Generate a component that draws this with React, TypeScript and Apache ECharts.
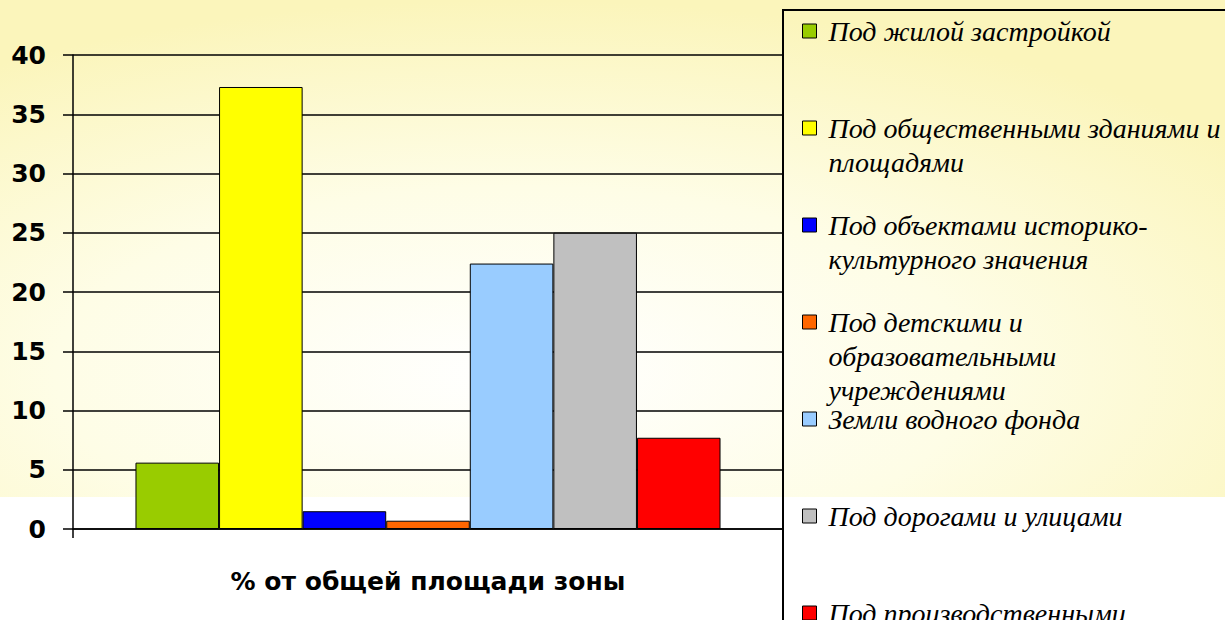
import React, { useEffect, useRef } from "react";
import * as echarts from "echarts";

const categories = ["% от общей площади зоны"];
const seriesNames = [
  "Под жилой застройкой",
  "Под общественными зданиями и\nплощадями",
  "Под объектами историко-\nкультурного значения",
  "Под детскими и\nобразовательными\nучреждениями",
  "Земли водного фонда",
  "Под дорогами и улицами",
  "Под производственными",
];
const seriesValues = [5.6, 37.3, 1.5, 0.7, 22.4, 25.0, 7.7];
const seriesColors = ["#99CC00", "#FFFF00", "#0000FF", "#FF6600", "#99CCFF", "#C0C0C0", "#FF0000"];
const yTicks = { min: 0, max: 40, interval: 5 };

const W = 1225;
const H = 620;
const LEGEND_CENTERS = [31, 128, 225, 322, 419, 516, 613];
const LH = 34;

export default function App() {
  const ref = useRef<HTMLDivElement>(null);
  useEffect(() => {
    document.body.style.margin = "0";
    const chart = echarts.init(ref.current!, null, { renderer: "svg" });
    const legends = seriesNames.map((name, i) => {
      const n = name.split("\n").length;
      const top = LEGEND_CENTERS[i] - ((2 * n - 1) * LH) / 2;
      return {
        show: true,
        data: [name],
        left: 802,
        top,
        orient: "vertical",
        padding: 0,
        itemWidth: 14,
        itemHeight: 14,
        icon: "rect",
        selectedMode: false,
        formatter: (nm: string) =>
          "\n".repeat(n - 1) + nm.split("\n").map((l) => " " + l).join("\n"),
        itemStyle: { borderColor: "#000", borderWidth: 1 },
        textStyle: {
          fontFamily: "Liberation Serif",
          fontStyle: "italic",
          fontSize: 28,
          lineHeight: LH,
          color: "#000",
        },
      };
    });
    chart.setOption({
      animation: false,
      backgroundColor: "#ffffff",
      graphic: [
        {
          type: "rect",
          z: -10,
          silent: true,
          shape: { x: 0, y: 0, width: W, height: 497 },
          style: {
            fill: {
              type: "radial",
              x: 0.42,
              y: 0.75,
              r: 0.75,
              colorStops: [
                { offset: 0, color: "#ffffff" },
                { offset: 0.5, color: "#fefde6" },
                { offset: 1, color: "#fbf5bb" },
              ],
            },
          },
        },
        {
          type: "rect",
          z: 5,
          silent: true,
          shape: { x: 783, y: 10, width: 600, height: 800 },
          style: { fill: "none", stroke: "#000", lineWidth: 2 },
        },
      ],
      legend: legends,
      grid: { left: 73, right: W - 783, top: 55, bottom: H - 529, containLabel: false },
      xAxis: {
        type: "category",
        data: categories,
        axisLine: { show: true, lineStyle: { color: "#000", width: 1.5 } },
        axisTick: { show: true, length: 9, lineStyle: { color: "#000", width: 1.5 } },
        axisLabel: {
          margin: 40,
          fontFamily: "DejaVu Sans",
          fontWeight: "bold",
          fontSize: 25,
          color: "#000",
        },
      },
      yAxis: {
        type: "value",
        min: yTicks.min,
        max: yTicks.max,
        interval: yTicks.interval,
        axisLine: { show: true, lineStyle: { color: "#000", width: 1.5 } },
        axisTick: { show: true, length: 10, lineStyle: { color: "#000", width: 1.5 } },
        splitLine: { show: true, lineStyle: { color: "#000", width: 1.5 } },
        axisLabel: {
          margin: 27,
          fontFamily: "DejaVu Sans",
          fontWeight: "bold",
          fontSize: 25,
          color: "#000",
        },
      },
      series: seriesNames.map((name, i) => ({
        type: "bar",
        name,
        data: [seriesValues[i]],
        barGap: "0%",
        barCategoryGap: "17.6%",
        itemStyle: { color: seriesColors[i], borderColor: "#000", borderWidth: 1 },
      })),
    });
    return () => chart.dispose();
  }, []);
  return <div ref={ref} style={{ width: W, height: H }} />;
}
